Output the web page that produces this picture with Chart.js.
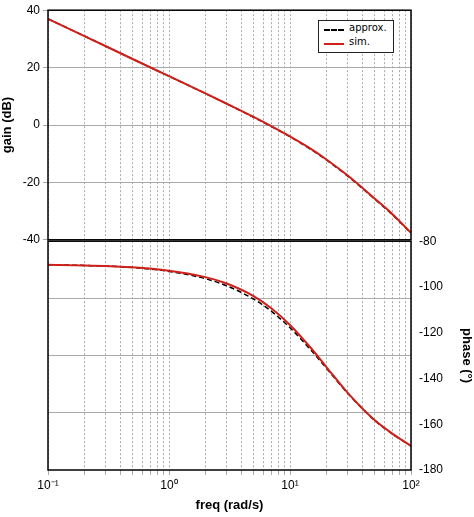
<!DOCTYPE html>
<html><head><meta charset="utf-8">
<script src="https://cdn.jsdelivr.net/npm/chart.js@4"></script>
<style>
body{margin:0;background:#fff;font-family:"Liberation Sans",Arial,sans-serif}
#c1{position:absolute;left:0;top:0}
#c2{position:absolute;left:0;top:231px}
#leg{position:absolute;left:318px;top:20px;width:74px;height:31px;border:1px solid #222;background:#fff;font-size:10px;font-family:"DejaVu Sans";z-index:2}
#leg div{position:absolute;left:30px}
#leg span{position:absolute;left:5px;width:20px;height:0}
</style></head><body>
<canvas id="c1" width="474" height="250"></canvas>
<canvas id="c2" width="474" height="286"></canvas>
<div id="leg">
<span style="top:8px;border-top:2px dashed #000"></span><div style="top:1px">approx.</div>
<span style="top:22px;border-top:2px solid #d0201a"></span><div style="top:15px">sim.</div>
</div>
<script>
const freq=[0.1,0.2,0.5,1,2,3,5,7,10,15,20,30,50,70,100];
const gainSim=[37.0,31.0,23.0,17.0,11.0,7.4,2.8,-0.4,-4.0,-8.4,-12.0,-17.6,-25.6,-31.0,-37.6];
const gainApprox=[37.0,31.0,23.0,17.0,11.0,7.4,2.7,-0.5,-4.1,-8.6,-12.2,-17.8,-25.8,-31.2,-37.7];
const phaseSim=[-90.3,-90.6,-91.4,-92.9,-95.7,-98.5,-104.0,-109.3,-116.6,-126.9,-135.0,-146.3,-158.2,-164.1,-169.5];
const phaseApprox=[-90.3,-90.6,-91.5,-93.2,-96.4,-99.5,-105.3,-110.6,-117.8,-127.8,-135.5,-146.5,-158.3,-164.2,-169.5];
const decadeLabels={0.1:'10⁻¹',1:'10⁰',10:'10¹',100:'10²'};
const xTicks=[];[0.1,1,10].forEach(d=>{for(let k=1;k<10;k++)xTicks.push(+(d*k).toPrecision(3));});xTicks.push(100);

const frame={id:'frame',afterDraw(c){const a=c.chartArea,x=c.ctx;x.save();x.strokeStyle='#000';x.lineWidth=1.5;x.strokeRect(a.left,a.top,a.right-a.left,a.bottom-a.top);x.restore();}};
const pts=(ys)=>freq.map((f,i)=>({x:f,y:ys[i]}));
function xScale(showLabels){return{type:'logarithmic',min:0.1,max:100,
 afterBuildTicks:s=>{s.ticks=xTicks.map(v=>({value:v}));},
 afterFit:s=>{if(!showLabels)s.height=0;},
 grid:{color:'#aaa',lineWidth:1,drawTicks:showLabels,tickLength:5},
 border:{dash:[2,2],display:false},
 ticks:{display:showLabels,autoSkip:false,maxRotation:0,color:'#000',font:{size:12,family:'Liberation Sans'},callback:v=>decadeLabels[v]||''},
 title:{display:showLabels,text:'freq (rad/s)',color:'#000',font:{size:13,weight:'bold',family:'Liberation Sans'},padding:{top:2}}};}
const ds=(a,s)=>[
 {data:pts(s),borderColor:'#d0201a',borderWidth:2,pointRadius:0,cubicInterpolationMode:'monotone'},
 {data:pts(a),borderColor:'#000',borderWidth:1.5,borderDash:[5,3],pointRadius:0,cubicInterpolationMode:'monotone'}];
const common={responsive:false,animation:false,plugins:{legend:{display:false},tooltip:{enabled:false}}};

new Chart(document.getElementById('c1'),{type:'line',data:{datasets:ds(gainApprox,gainSim)},plugins:[frame],
 options:{...common,layout:{padding:{top:8,right:63,bottom:2}},
 scales:{x:xScale(false),
 y:{min:-40,max:40,afterFit:s=>{s.width=48;},afterBuildTicks:s=>{s.ticks=[-40,-20,0,20,40].map(v=>({value:v}));},
  grid:{color:'#aaa',tickLength:5},border:{display:false},
  ticks:{color:'#000',font:{size:12,family:'Liberation Sans'}},
  title:{display:true,text:'gain (dB)',color:'#000',font:{size:13,weight:'bold',family:'Liberation Sans'},padding:0}}}}});

new Chart(document.getElementById('c2'),{type:'line',data:{datasets:ds(phaseApprox,phaseSim).map(d=>({...d,yAxisID:'y'}))},plugins:[frame],
 options:{...common,layout:{padding:{top:2}},
 scales:{x:xScale(true),
 g:{position:'left',min:-40,max:40,afterFit:s=>{s.width=48;},afterBuildTicks:s=>{s.ticks=[-20,0,20].map(v=>({value:v}));},
  grid:{color:'#aaa',drawTicks:false},border:{display:false},ticks:{display:false}},
 y:{position:'right',min:-180,max:-80,afterFit:s=>{s.width=63;},afterBuildTicks:s=>{s.ticks=[-180,-160,-140,-120,-100,-80].map(v=>({value:v}));},
  grid:{display:false,tickLength:5},border:{display:false},
  ticks:{color:'#000',font:{size:12,family:'Liberation Sans'}},
  title:{display:true,text:'phase (°)',color:'#000',font:{size:13,weight:'bold',family:'Liberation Sans'},padding:0}}}}});
</script></body></html>
